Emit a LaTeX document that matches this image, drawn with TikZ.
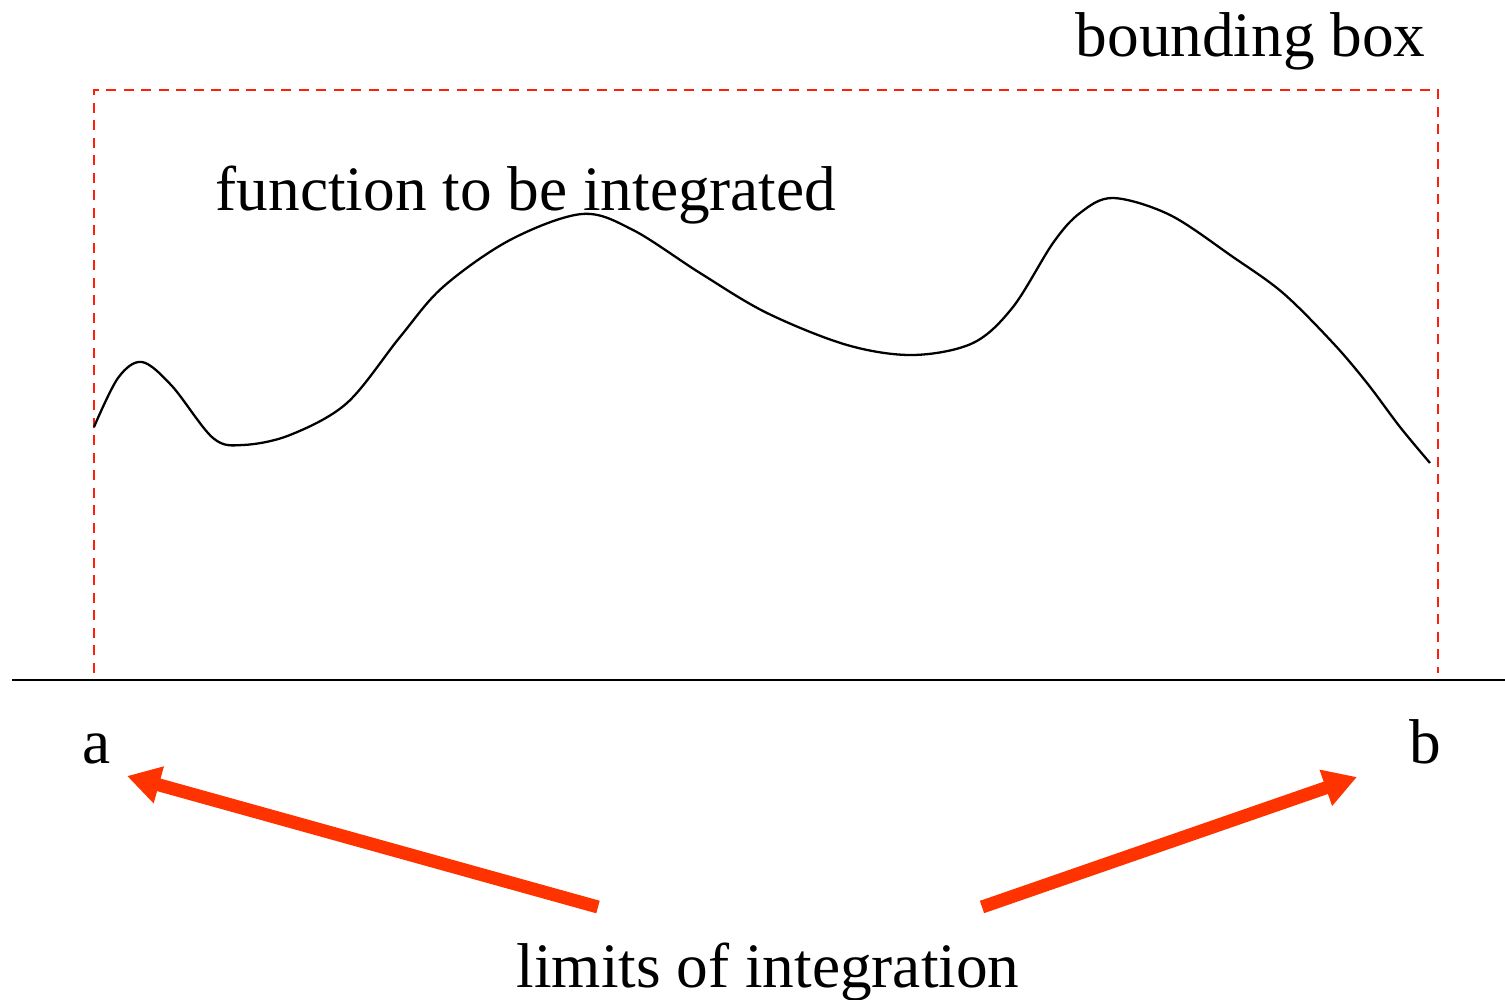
\documentclass[tikz,border=0pt]{standalone}
\usepackage{fontspec}
\setmainfont{Liberation Serif}
\usepackage{tikz}
\usetikzlibrary{arrows.meta, positioning, calc}
\definecolor{boxred}{RGB}{255,30,10}
\definecolor{arrred}{RGB}{255,51,0}
\tikzset{
  lbl/.style={inner sep=0pt, font=\fontsize{18}{21.6}\selectfont},
  bbox/.style={draw=boxred, line width=0.75pt, dash pattern=on 1mm off 0.75mm},
  curve/.style={line width=0.65pt, color=black},
  axisline/.style={line width=0.8pt, color=black},
  limarrow/.style={-{Triangle[length=3.3mm, width=3.6mm]}, line width=3.7pt, color=arrred}
}
\begin{document}
\begin{tikzpicture}[x=0.01cm, y=-0.01cm]
  \useasboundingbox (0,0) rectangle (1505,1000);

  % Labels
  \node[lbl, anchor=base west] (bb)  at (1075,57)  {bounding box};
  \node[lbl, anchor=base west] (fn)  at (215,210)  {function to be integrated};
  \node[lbl, anchor=base]      (a)   at (97,763)   {a};
  \node[lbl, anchor=base]      (b)   at (1425,763) {b};
  \node[lbl, anchor=base]      (lim) at (768,987)  {limits of integration};

  % ── Bounding box and axis ─────────────────────────────────────────────────
  \draw[bbox] (94,673) -- (94,90) -- (1438,90) -- (1438,673);
  \draw[axisline] (12,680) -- (1505,680);

  % ── Function ──────────────────────────────────────────────────────────────
  \draw[curve] plot[smooth, tension=0.55] coordinates {
    (94,427) (118,378) (142,362) (172,386) (213,438) (243,445) (290,435)
    (347,403) (400,337) (443,287) (510,240) (582,214) (633,230) (700,273)
    (767,313) (847,345) (913,355) (973,343) (1013,307) (1053,243) (1080,213)
    (1113,198) (1170,215) (1233,257) (1283,293) (1333,343) (1367,383)
    (1400,427) (1430,463)};

  % ── Limit arrows ──────────────────────────────────────────────────────────
  \coordinate (ltail) at (598,907);
  \coordinate (rtail) at (982,907);
  \coordinate (atip)  at (127,776);
  \coordinate (btip)  at (1357,777);
  \draw[limarrow] (ltail) -- (atip);
  \draw[limarrow] (rtail) -- (btip);
\end{tikzpicture}
\end{document}
